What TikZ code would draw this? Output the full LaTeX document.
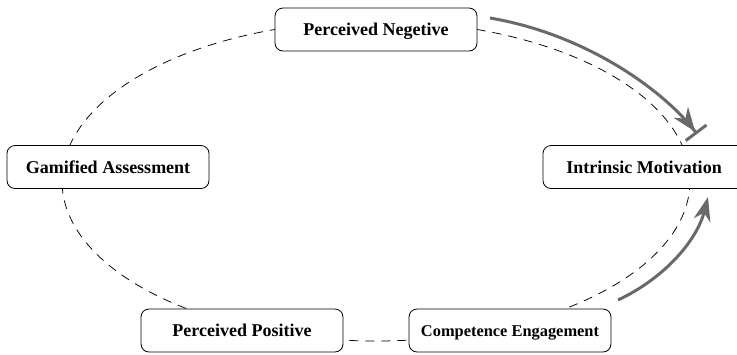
\documentclass[tikz,border=0pt]{standalone}
\usepackage{fontspec}
\setmainfont{Liberation Serif}
\usetikzlibrary{arrows.meta}
\definecolor{arrowgray}{RGB}{105,105,105}
\begin{document}
\begin{tikzpicture}[x=1pt,y=-1pt,
  box/.style={draw, rounded corners=8pt, fill=white, minimum width=202pt, minimum height=43pt,
    font=\fontsize{18}{20}\selectfont\bfseries, line width=0.8pt, inner sep=0pt,
    text height=12pt, text depth=0pt},
  link/.style={dash pattern=on 9pt off 7pt, line width=0.75pt},
  push/.style={draw=arrowgray, line width=3pt}]
\clip (0,0) rectangle (737,354);
\coordinate (c) at (376,181);
\draw[link] (c) ellipse [x radius=314pt, y radius=160pt];
\node[box] (neg) at (376,29.5) {Perceived Negetive};
\node[box] (gam) at (108,167) {Gamified Assessment};
\node[box] (int) at (644,167) {Intrinsic Motivation};
\node[box] (pos) at (242,330.5) {Perceived Positive};
\node[box, font=\fontsize{16.4}{18}\selectfont\bfseries] (com) at (510,330.5) {Competence Engagement};
\coordinate (ns) at (490,18);
\coordinate (ne) at (697,134);
\coordinate (cs) at (618,300);
\coordinate (ce) at (708,197);
\draw[push, -{Stealth[length=24pt,width=18pt]Bar[width=26pt]}] (ns) .. controls (590,35) and (667,94) .. (ne);
\draw[push, -{Stealth[length=24pt,width=17pt]}] (cs) .. controls (665,278) and (697,240) .. (ce);
\end{tikzpicture}
\end{document}
